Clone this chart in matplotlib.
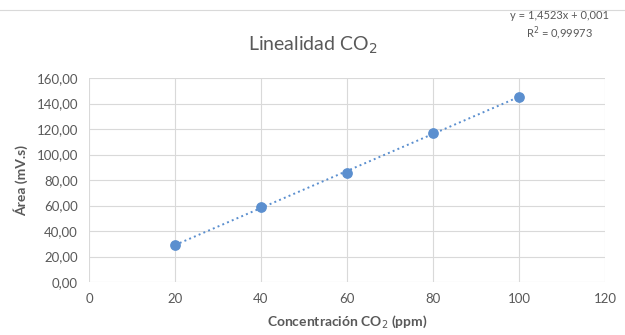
import numpy as np
import matplotlib
matplotlib.use("Agg")
from matplotlib import pyplot as plt

# data
conc = [20, 40, 60, 80, 100]
area = [29.3, 58.7, 85.9, 116.8, 145.3]
slope = 1.4523
intercept = 0.001
r2 = 0.99973

plt.rcParams['font.family'] = ['Lato', 'DejaVu Sans']
gray = '#595959'
blue = '#5b8fcf'

fig = plt.figure(figsize=(6.25, 3.35), dpi=100)
ax = fig.add_axes([0.1424, 0.158, 0.8256, 0.609])

xs = np.array([conc[0], conc[-1]])
ax.plot(xs, slope * xs + intercept, ls=':', color=blue, lw=1.4, zorder=2)
ax.scatter(conc, area, s=45, color=blue, zorder=3)

ax.set_xlim(0, 120)
ax.set_ylim(0, 160)
ax.set_xticks(range(0, 121, 20))
ax.set_yticks(range(0, 161, 20))
ax.set_yticklabels([f"{v:.2f}".replace('.', ',') for v in range(0, 161, 20)])
ax.grid(True, color='#d9d9d9', lw=0.8)
ax.set_axisbelow(True)
for s in ax.spines.values():
    s.set_visible(False)
ax.tick_params(length=0, colors=gray, labelsize=9.5, pad=8)

ax.set_xlabel('Concentración CO$_2$ (ppm)', color=gray, fontsize=10, fontweight='bold', labelpad=6)
ax.set_ylabel('Área (mV.s)', color=gray, fontsize=10, fontweight='bold', labelpad=6)

fig.text(0.5, 0.865, 'Linealidad CO$_2$', ha='center', va='center', color=gray, fontsize=14)
fig.text(0.895, 0.955, f"y = {slope:.4f}x + {intercept:.3f}".replace('.', ','),
         ha='center', va='center', color=gray, fontsize=8)
fig.text(0.895, 0.9, f"R$^2$ = {r2:.5f}".replace('.', ','),
         ha='center', va='center', color=gray, fontsize=8)
fig.add_artist(plt.Line2D([0, 1], [0.97, 0.97], color='#d9d9d9', lw=0.8, transform=fig.transFigure))

fig.savefig('out.png', dpi=100)
